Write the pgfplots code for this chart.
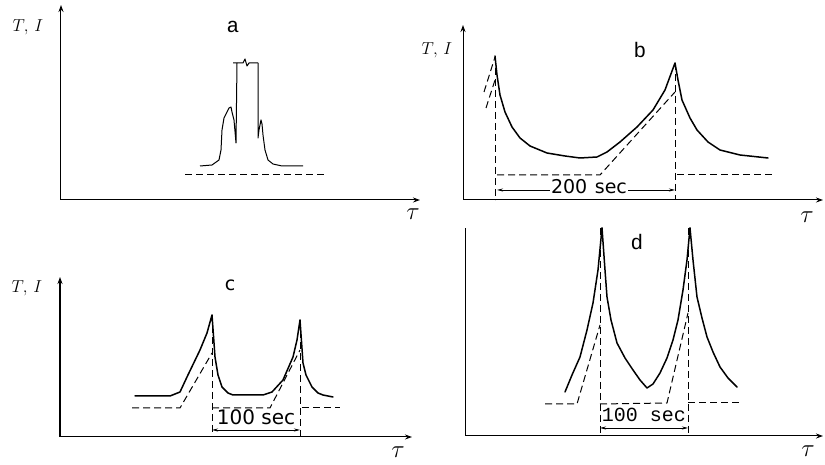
\documentclass[border=0pt]{standalone}
\usepackage{pgfplots}
\pgfplotsset{compat=1.18}
\usepackage{fontspec}
\usetikzlibrary{arrows.meta}
\newfontfamily\monof{Liberation Mono}
\newfontfamily\sansf{DejaVu Sans}

\pgfplotsset{
  panel/.style={
    scale only axis, axis lines=left, xtick=\empty, ytick=\empty,
    xmin=0, ymin=0, enlargelimits=false, clip=false,
    axis line style={line width=1pt},
    x axis line style={-{Stealth[length=7pt,width=5pt]}},
    y axis line style={-{Stealth[length=7pt,width=5pt]}},
    anchor=south west,
  },
  solidc/.style={black, line width=1.5pt, line join=round, line cap=round, no marks},
  thinc/.style={black, line width=1pt, line join=round, no marks},
  dashc/.style={black, line width=1pt, dash pattern=on 7pt off 4pt, no marks},
  dimc/.style={black, line width=0.7pt, {Stealth[length=6pt,width=3pt]}-{Stealth[length=6pt,width=3pt]}, no marks},
}
\newcommand{\TI}{\fontsize{18}{18}\selectfont$T,\,I$}
\newcommand{\tauL}{\fontsize{28}{28}\selectfont$\tau$}

\begin{document}
\begin{tikzpicture}[x=1pt,y=1pt]
\useasboundingbox (0,0) rectangle (825,465);

% ---- panel a ----
\begin{axis}[panel, at={(61,265)}, width=359pt, height=195pt, xmax=359, ymax=195]
  \addplot[thinc] coordinates {(139,34) (151,35) (158,40) (160,50) (161,70) (163,82) (166,88) (168,92) (170,93) (171,88) (173,80) (175,57) (176,137)};
  \addplot[thinc] coordinates {(172,137) (182,137) (184,141) (186,134) (188,137) (197,137)};
  \addplot[thinc] coordinates {(197,137) (197,62) (198,70) (200,80) (201,76) (202,65) (204,50) (207,40) (212,36) (221,34) (242,34)};
  \addplot[dashc] coordinates {(124,25) (264,25)};
  \node at (-33,173) {\TI};
  \node at (172,173) {\monof\fontsize{21}{21}\selectfont a};
  \node at (352,-14) {\tauL};
\end{axis}

% ---- panel b ----
\begin{axis}[panel, at={(463,265)}, width=360pt, height=175pt, xmax=360, ymax=175]
  \addplot[solidc] coordinates {(32,144) (34,125) (37,105) (42,88) (49,73) (57,62) (67,54) (84,47) (102,44) (117,42) (134,43) (144,48) (157,58) (174,73) (190,90) (202,110) (212,137) (215,120) (219,100) (227,82) (234,70) (245,58) (257,50) (277,45) (305,42)};
  \addplot[dashc] coordinates {(21,108) (32,143)};
  \addplot[dashc] coordinates {(23,92) (32,120)};
  \addplot[dashc] coordinates {(32,143) (32,0)};
  \addplot[dashc] coordinates {(212,137) (212,0)};
  \addplot[dashc] coordinates {(34,25) (137,25) (212,108)};
  \addplot[dashc] coordinates {(214,25) (310,25)};
  \addplot[dimc] coordinates {(34,10) (212,10)};
  \node[fill=white, inner sep=1pt] at (126,13) {\sansf\fontsize{19}{19}\selectfont 200\hspace{0.4em}sec};
  \node at (-26,150) {\TI};
  \node at (177,150) {\monof\fontsize{21}{21}\selectfont b};
  \node at (344,-17) {\tauL};
\end{axis}

% ---- panel c ----
\begin{axis}[panel, at={(60,28)}, width=352pt, height=160pt, xmax=352, ymax=160]
  \addplot[solidc] coordinates {(75,41) (110,41) (120,45) (127,60) (140,87) (147,104) (152,122) (155,80) (158,62) (162,50) (168,44) (173,42) (203,42) (212,45) (223,57) (233,80) (237,97) (240,117) (243,74) (246,62) (252,50) (258,44) (263,42) (273,40)};
  \addplot[dashc] coordinates {(72,29) (120,29) (152,84)};
  \addplot[dashc] coordinates {(152,122) (152,0)};
  \addplot[dashc] coordinates {(152,29) (210,29) (240,87)};
  \addplot[dashc] coordinates {(240,117) (240,0)};
  \addplot[dashc] coordinates {(242,29) (280,29)};
  \addplot[dimc] coordinates {(152,7) (240,7)};
  \node at (196,20) {\sansf\fontsize{20}{20}\selectfont 100 sec};
  \node at (-33,149) {\TI};
  \node at (170,152) {\sansf\fontsize{19}{19}\selectfont c};
  \node at (338,-15) {\tauL};
\end{axis}

% ---- panel d ----
\begin{axis}[panel, at={(465,29)}, width=358pt, height=208pt, xmax=358, ymax=208,
             y axis line style={-}]
  \addplot[solidc] coordinates {(100,44) (107,61) (115,79) (122,106) (128,133) (133,166) (137,208)};
  \addplot[solidc] coordinates {(137,208) (140,166) (142,139) (146,116) (152,93) (160,78) (168,66) (175,56) (182,48) (188,52) (195,63) (202,78) (208,96) (213,116) (218,146) (222,176) (225,208)};
  \addplot[solidc] coordinates {(225,208) (228,176) (232,139) (237,118) (242,99) (248,84) (255,69) (263,58) (272,49)};
  \addplot[dashc] coordinates {(80,32) (112,32) (135,111)};
  \addplot[dashc] coordinates {(135,208) (135,0)};
  \addplot[dashc] coordinates {(135,32) (202,33) (223,123)};
  \addplot[dashc] coordinates {(223,208) (223,0)};
  \addplot[dashc] coordinates {(223,33) (275,33)};
  \addplot[dimc] coordinates {(135,8) (223,8)};
  \node at (179,21) {\monof\fontsize{20}{20}\selectfont 100 sec};
  \node at (172,194) {\monof\fontsize{21}{21}\selectfont d};
  \node at (343,-15) {\tauL};
\end{axis}
\end{tikzpicture}
\end{document}
